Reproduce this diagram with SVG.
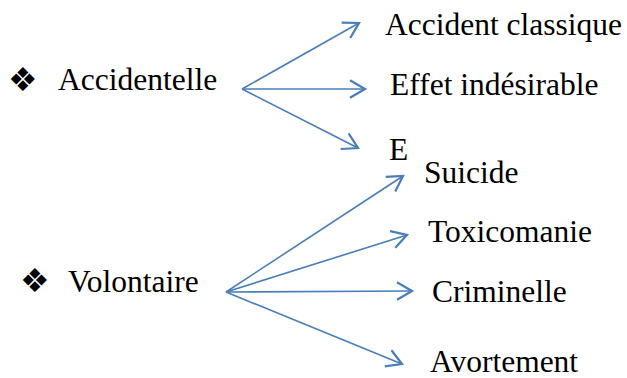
<svg xmlns="http://www.w3.org/2000/svg" width="627" height="378" viewBox="0 0 627 378">
<style>
.t{font-family:"Liberation Serif","Times New Roman",serif;font-size:31.5px;fill:#000}
.b{font-family:"DejaVu Sans",sans-serif;font-size:33px;fill:#000}
.c{stroke:#4A7EBB;stroke-width:1.6;fill:none;marker-end:url(#ah)}
</style>
<defs>
<marker id="ah" markerUnits="userSpaceOnUse" markerWidth="20" markerHeight="20" viewBox="-14 -8 16 16" refX="0" refY="0" orient="auto">
<path d="M-12,-7 L0,0 L-12,7" fill="none" stroke="#4A7EBB" stroke-width="1.8"/>
</marker>
</defs>
<rect width="627" height="378" fill="#fff"/>
<g id="connectors">
<line class="c" x1="242" y1="89" x2="359" y2="23"/>
<line class="c" x1="242" y1="89" x2="365" y2="89"/>
<line class="c" x1="242" y1="89" x2="358" y2="148"/>
<line class="c" x1="226" y1="292" x2="403" y2="176"/>
<line class="c" x1="226" y1="292" x2="407" y2="235"/>
<line class="c" x1="226" y1="292" x2="412" y2="291"/>
<line class="c" x1="226" y1="292" x2="402" y2="364"/>
</g>
<g id="accidentelle">
<text class="b" x="8" y="91">❖</text>
<text class="t" x="58" y="90">Accidentelle</text>
</g>
<g id="volontaire">
<text class="b" x="20" y="292">❖</text>
<text class="t" x="68" y="292">Volontaire</text>
</g>
<g id="accident-classique"><text class="t" x="385" y="35">Accident classique</text></g>
<g id="effet-indesirable"><text class="t" x="390" y="95">Effet indésirable</text></g>
<g id="e"><text class="t" x="389" y="160">E</text></g>
<g id="suicide"><text class="t" x="424" y="183">Suicide</text></g>
<g id="toxicomanie"><text class="t" x="428" y="242">Toxicomanie</text></g>
<g id="criminelle"><text class="t" x="432" y="302">Criminelle</text></g>
<g id="avortement"><text class="t" x="430" y="372">Avortement</text></g>
</svg>
